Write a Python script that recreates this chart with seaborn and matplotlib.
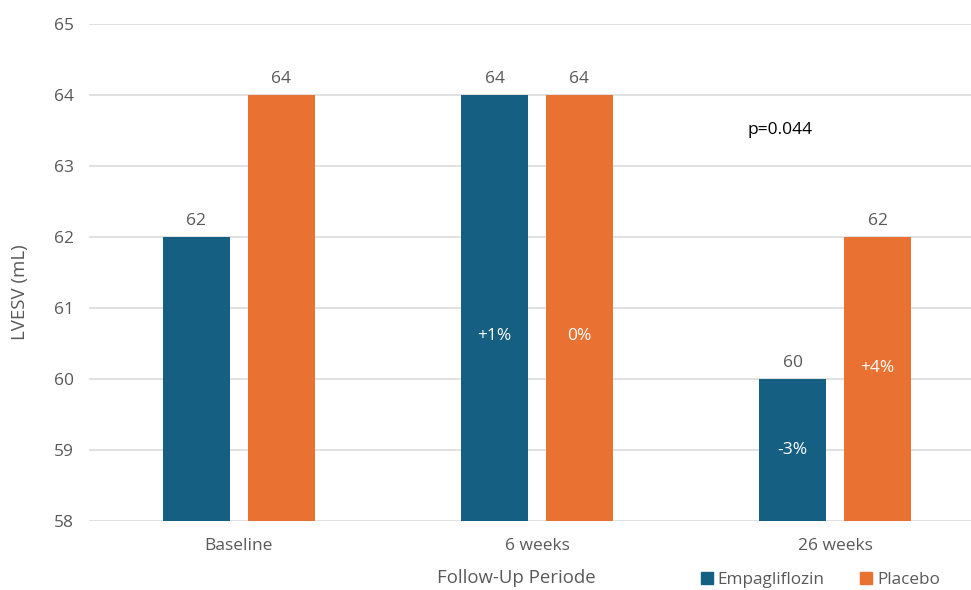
import matplotlib
matplotlib.use("Agg")
import matplotlib.pyplot as plt
import seaborn as sns
import pandas as pd
from matplotlib.lines import Line2D

# Left ventricular end-systolic volume by treatment arm
periods = ["Baseline", "6 weeks", "26 weeks"]
empagliflozin = [62, 64, 60]
placebo = [64, 64, 62]
empa_change = ["", "+1%", "-3%"]
placebo_change = ["", "0%", "+4%"]
change_y_empa = [None, 60.6, 59.0]
change_y_placebo = [None, 60.6, 60.15]
y_ticks = [58, 59, 60, 61, 62, 63, 64, 65]

BLUE = "#156082"
ORANGE = "#E97132"
GREY_TEXT = "#595959"

df = pd.DataFrame({
    "period": periods * 2,
    "arm": ["Empagliflozin"] * 3 + ["Placebo"] * 3,
    "lvesv": empagliflozin + placebo,
})

sns.set_theme(style="white")
plt.rcParams["font.family"] = ["Open Sans", "DejaVu Sans"]

fig = plt.figure(figsize=(9.71, 5.90), dpi=100)
ax = fig.add_axes([89 / 971, 1 - 521 / 590, 1 - 89 / 971, (521 - 24) / 590])

sns.barplot(data=df, x="period", y="lvesv", hue="arm", order=periods,
            hue_order=["Empagliflozin", "Placebo"],
            palette=[BLUE, ORANGE], width=0.57, gap=0.21,
            saturation=1, ax=ax, legend=False, errorbar=None, zorder=2,
            linewidth=0)

ax.set_ylim(58, 65)
ax.set_xlim(-0.503, 2.456)
ax.set_yticks(y_ticks)
ax.yaxis.grid(True, color="#D9D9D9", linewidth=1.1, zorder=0)
ax.set_axisbelow(True)
for s in ax.spines.values():
    s.set_visible(False)
ax.tick_params(axis="both", length=0, labelsize=12.5, colors=GREY_TEXT)
ax.tick_params(axis="y", pad=11)
ax.tick_params(axis="x", pad=12)

# value labels above bars
for container, vals in zip(ax.containers, [empagliflozin, placebo]):
    ax.bar_label(container, labels=[str(v) for v in vals], padding=6,
                 fontsize=12.5, color=GREY_TEXT)

# change labels inside bars
for container, labels, ys in zip(ax.containers,
                                 [empa_change, placebo_change],
                                 [change_y_empa, change_y_placebo]):
    for bar, lab, yy in zip(container.patches, labels, ys):
        if lab:
            ax.text(bar.get_x() + bar.get_width() / 2, yy, lab, ha="center",
                    va="center", color="white", fontsize=12.5, zorder=3)

ax.text(1.816, 63.5, "p=0.044", ha="center", va="center", fontsize=12.5,
        color="#000000")

ax.set_xlabel("Follow-Up Periode", fontsize=13.4, color=GREY_TEXT)
ax.set_ylabel("LVESV (mL)", fontsize=13.4, color=GREY_TEXT)
ax.xaxis.set_label_coords((516 - 89) / (971 - 89), -(578 - 521) / 497, transform=ax.transAxes)
ax.yaxis.set_label_coords(-(89 - 20) / 882, (521 - 292) / 497)
ax.xaxis.label.set_va("center")
ax.yaxis.label.set_va("center")

handles = [Line2D([], [], marker="s", linestyle="none", markersize=8,
                  markerfacecolor=c, markeredgecolor=c) for c in (BLUE, ORANGE)]
leg = fig.legend(handles, ["Empagliflozin", "Placebo"], loc="center",
                 bbox_to_anchor=(819 / 971, 1 - 580 / 590), ncol=2, frameon=False,
                 fontsize=12.3, handletextpad=0.15, columnspacing=1.9,
                 handlelength=1.0)
for t in leg.get_texts():
    t.set_color(GREY_TEXT)

fig.savefig("out.png", dpi=100, facecolor="white")
